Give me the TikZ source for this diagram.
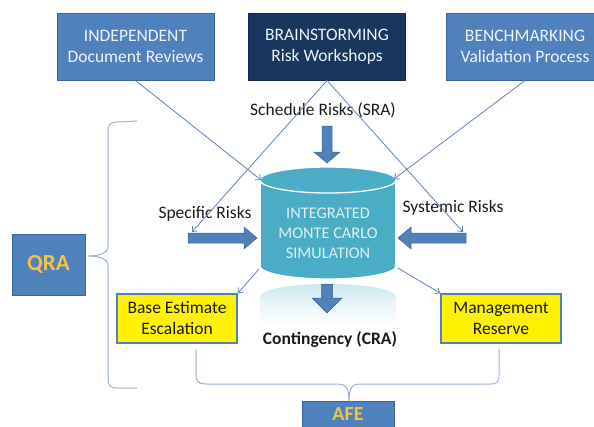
\documentclass[tikz,border=0pt]{standalone}
\usepackage{fontspec}
\setmainfont{Carlito}
\usetikzlibrary{arrows.meta}
\definecolor{boxblue}{HTML}{4F81BD}
\definecolor{boxedge}{HTML}{3A6496}
\definecolor{navy}{HTML}{17375E}
\definecolor{navyedge}{HTML}{10294A}
\definecolor{aqua}{HTML}{4BACC6}
\definecolor{aquatext}{HTML}{DDF0F5}
\definecolor{gold}{HTML}{F5C242}
\definecolor{bracecol}{HTML}{9CB2D0}
\definecolor{conncol}{HTML}{5B83BE}
\definecolor{boxtext}{HTML}{EEF3F9}
\definecolor{refl}{HTML}{C6E5EF}
\definecolor{txt}{HTML}{1A1A1A}
\begin{document}
\begin{tikzpicture}[x=1pt,y=-1pt,
  topbox/.style={draw=boxedge, fill=boxblue, line width=1pt, minimum width=157pt, minimum height=67pt,
    text=boxtext, align=center, inner sep=0pt, font=\fontsize{17.5}{21}\selectfont},
  yellowbox/.style={draw=boxblue, fill=yellow, line width=1.6pt, minimum width=120pt, minimum height=49pt,
    text=txt, align=center, inner sep=0pt, font=\fontsize{17.5}{21}\selectfont},
  lbl/.style={text=txt, inner sep=0pt, font=\fontsize{17.5}{21}\selectfont},
  goldbox/.style={draw=boxedge, fill=boxblue, line width=1pt, text=gold, inner sep=0pt},
  conn/.style={draw=conncol, line width=0.8pt, -{Straight Barb[length=4pt,width=7pt]}},
  bracepath/.style={draw=bracecol, line width=1pt},
  fatarrow/.style={fill=boxblue, draw=boxedge, line width=0.5pt},
  cylline/.style={draw=white, line width=1.3pt}]
\useasboundingbox (0,0) rectangle (594,426);
\clip (0,0) rectangle (594,426);

% reflection of the cylinder
\shade[top color=refl, bottom color=white, middle color=refl!45] (260,297) .. controls (260,279.7) and (396,279.7) .. (396,297) -- (396,324) -- (260,324) -- cycle;

% top boxes
\node[topbox] (indep) at (135.5,46.5) {INDEPENDENT\\Document Reviews};
\node[topbox, fill=navy, draw=navyedge] (brain) at (327,46.5) {BRAINSTORMING\\Risk Workshops};
\node[topbox] (bench) at (525,46.5) {BENCHMARKING\\Validation Process};

% labels
\node[lbl] (sra) at (323,110) {Schedule Risks (SRA)};
\node[lbl] (spec) at (205,214) {Specific Risks};
\node[lbl] (syst) at (453,208) {Systemic Risks};
\node[lbl, font=\fontsize{17.5}{21}\selectfont\bfseries] (cra) at (330,339) {Contingency (CRA)};

% cylinder
\fill[aqua] (328,266) ellipse (68 and 13);
\draw[cylline] (328,266) ellipse (68 and 13);
\fill[aqua] (260,180) rectangle (396,266);
\draw[cylline] (260,180) -- (260,266);
\draw[cylline] (396,180) -- (396,266);
\fill[aqua] (328,180) ellipse (68 and 13);
\draw[cylline] (328,180) ellipse (68 and 13);
\node[text=aquatext, align=center, inner sep=0pt, font=\fontsize{16.3}{20}\selectfont] (sim) at (328,233) {INTEGRATED\\MONTE CARLO\\SIMULATION};

% connector end points
\coordinate (cylTL) at (261,180);
\coordinate (cylTR) at (394,179);
\coordinate (cylBL) at (259,269);
\coordinate (cylBR) at (398,268);
\coordinate (specTail) at (192,232);
\coordinate (systTail) at (463,232);

% yellow boxes
\node[yellowbox] (base) at (177,318.5) {Base Estimate\\Escalation};
\node[yellowbox] (mgmt) at (501,318.5) {Management\\Reserve};

% QRA and AFE
\node[goldbox, minimum width=73pt, minimum height=61pt, font=\fontsize{23}{23}\selectfont\bfseries] (qra) at (48.5,264.5) {QRA};
\node[goldbox, minimum width=92pt, minimum height=27pt, font=\fontsize{20}{20}\selectfont\bfseries] (afe) at (348,414.5) {AFE};

% thin connectors
\draw[conn] (indep.south) -- (cylTL);
\draw[conn] (brain.south) -- (specTail);
\draw[conn] (brain.south) -- (systTail);
\draw[conn] (bench.south) -- (cylTR);
\draw[conn] (cylBL) -- (base.north east);
\draw[conn] (cylBR) -- (mgmt.north west);

% fat arrows
\filldraw[fatarrow] (188,233) -- (244,233) -- (244,227) -- (257,238) -- (244,249) -- (244,243) -- (188,243) -- cycle;
\filldraw[fatarrow] (466,233) -- (411,233) -- (411,227) -- (398,238) -- (411,249) -- (411,243) -- (466,243) -- cycle;
\filldraw[fatarrow] (322,126) -- (322,152) -- (314,152) -- (327,163) -- (340,152) -- (332,152) -- (332,126) -- cycle;
\filldraw[fatarrow] (321.5,284) -- (321.5,298) -- (312,298) -- (327,313) -- (342,298) -- (332.5,298) -- (332.5,284) -- cycle;

% QRA brace
\draw[bracepath] (137,121) -- (118,122) .. controls (109,122) and (108,125) .. (108,133) -- (108,246)
  .. controls (108,253) and (100,256) .. (88,256) .. controls (100,256) and (108,259) .. (108,266)
  -- (108,378) .. controls (108,386) and (110,388) .. (118,388) -- (137,388);

% AFE brace
\draw[bracepath] (196,349) -- (196,375) .. controls (196,382) and (199,384) .. (206,384) -- (338,384)
  .. controls (345,384) and (349,387) .. (349,401);
\draw[bracepath] (499,349) -- (499,375) .. controls (499,382) and (497,384) .. (490,384) -- (360,384)
  .. controls (353,384) and (349,387) .. (349,401);
\end{tikzpicture}
\end{document}
